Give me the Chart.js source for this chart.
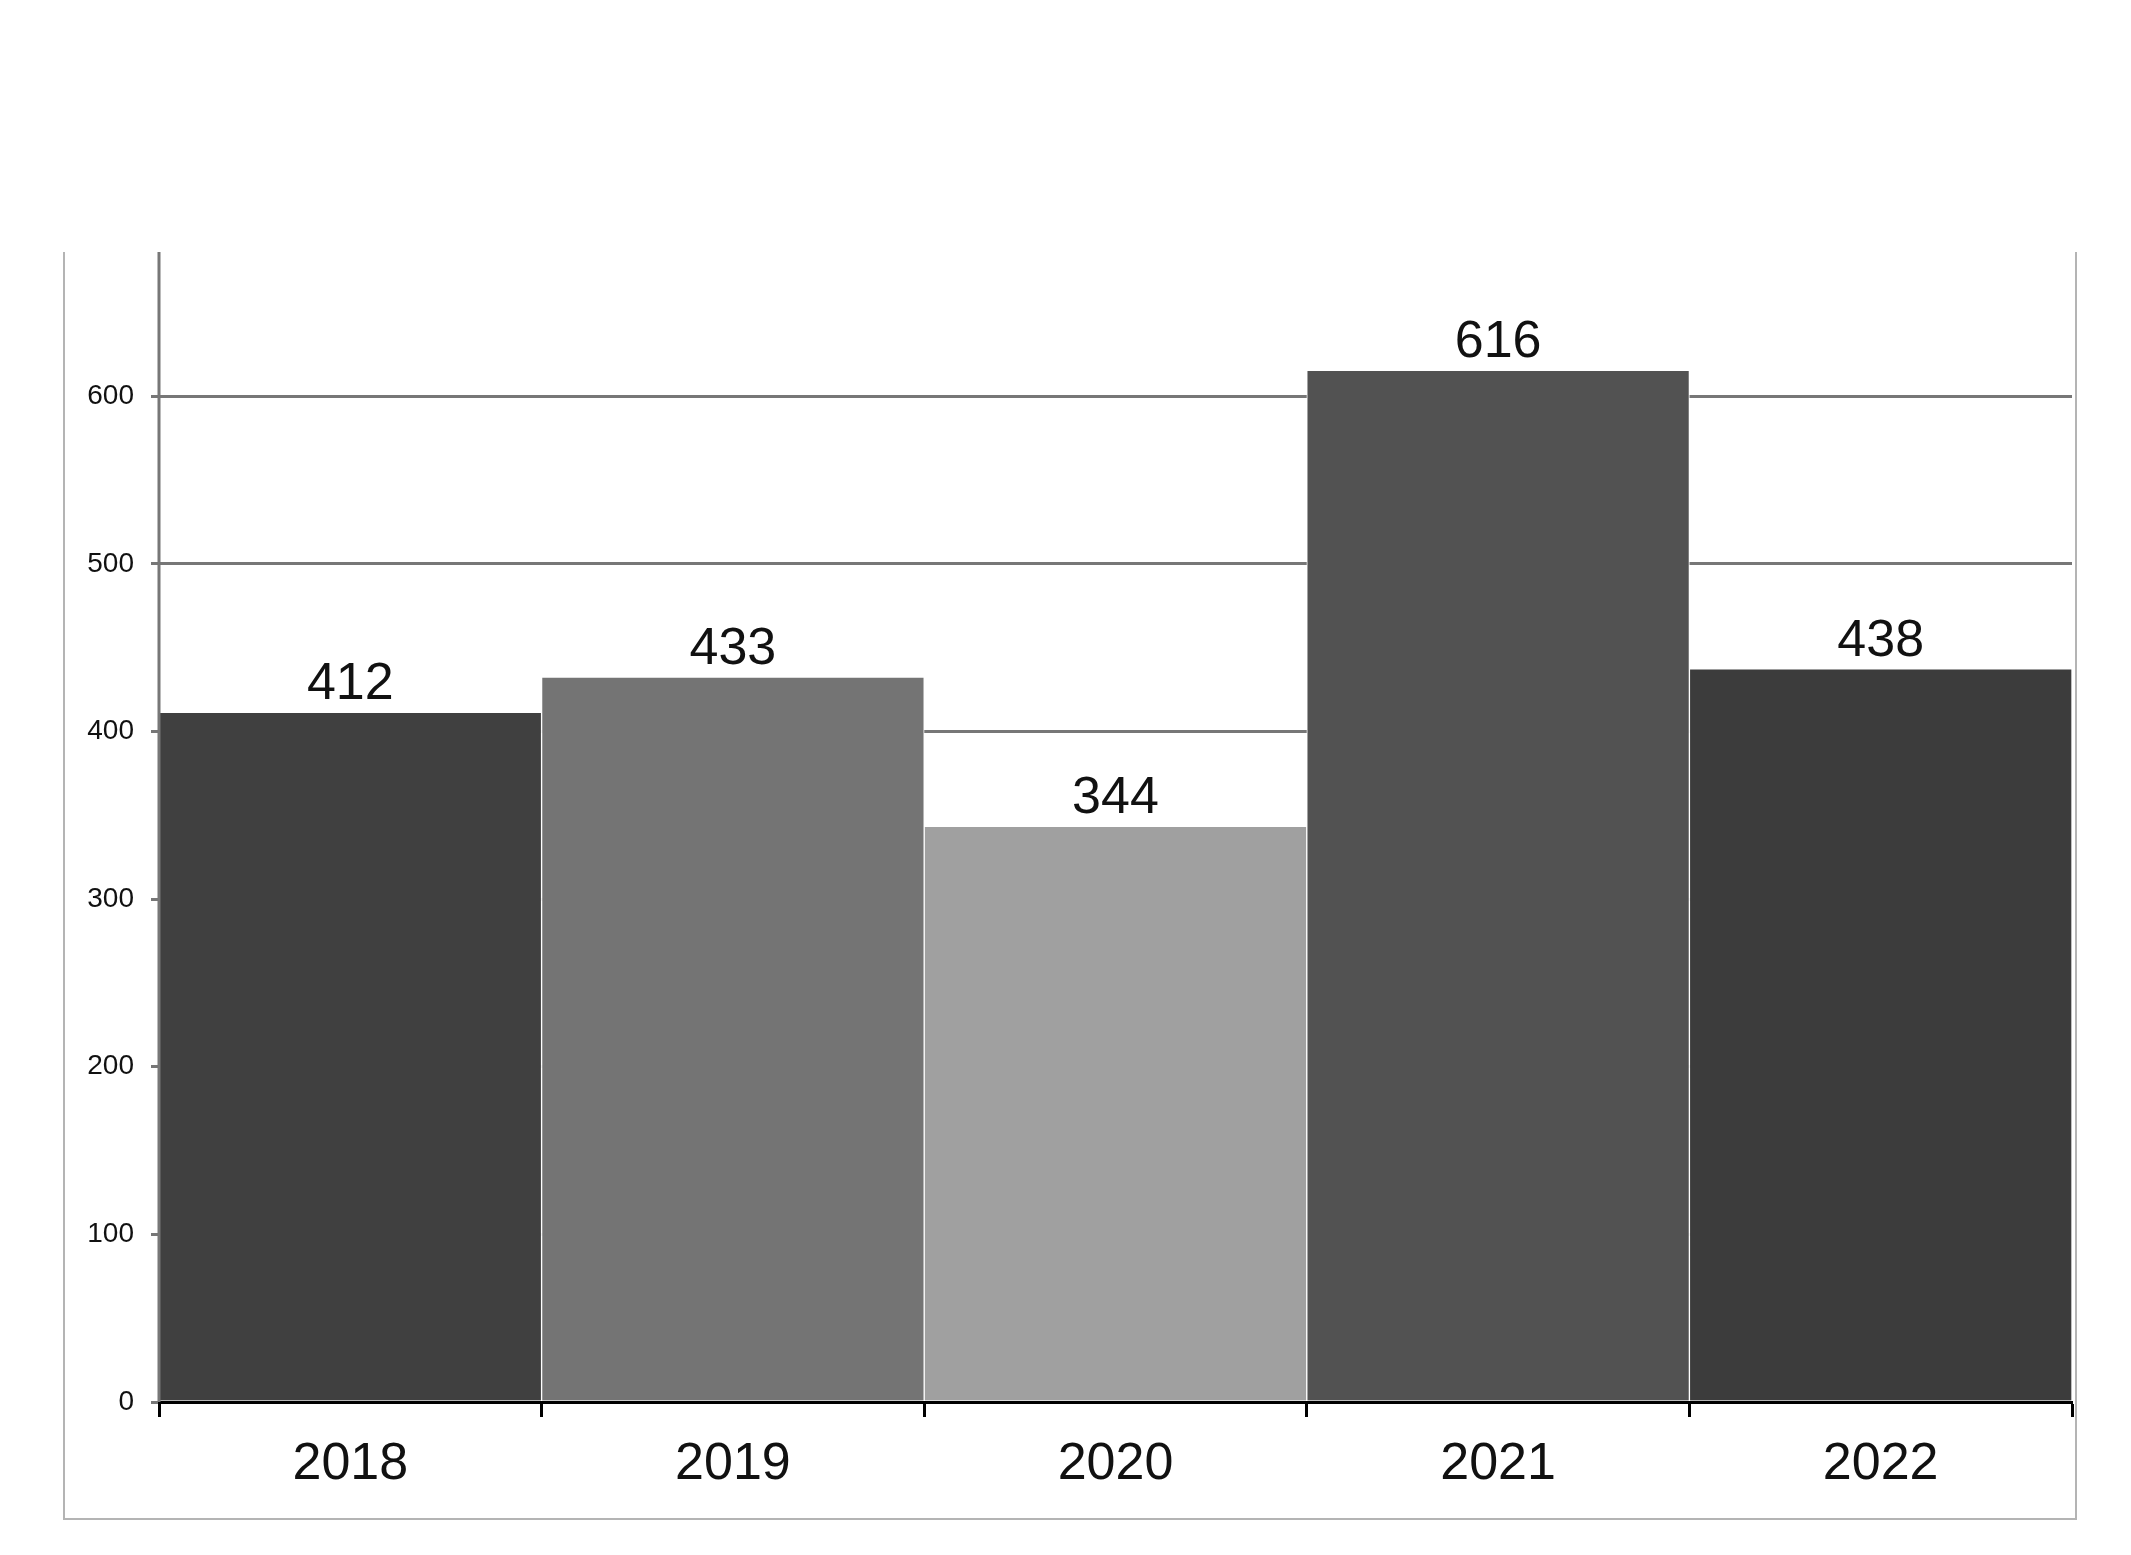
<!DOCTYPE html>
<html>
<head>
<meta charset="utf-8">
<script src="https://cdn.jsdelivr.net/npm/chart.js@4.4.1/dist/chart.umd.min.js"></script>
<style>
    html, body { margin: 0; padding: 0; background: #fff; }
    #wrap { position: relative; width: 2131px; height: 1555px; }
    #frame {
        position: absolute; left: 63px; top: 252px; width: 2010px; height: 1266px;
        border-left: 2px solid #b4b4b4; border-right: 2px solid #b4b4b4; border-bottom: 2px solid #b4b4b4;
    }
    canvas { position: absolute; left: 0; top: 0; }
</style>
</head>
<body>
<div id="wrap">
    <div id="frame"></div>
    <canvas id="barChart" width="2131" height="1555"></canvas>
</div>
<script>
// Chart data
const years = ['2018', '2019', '2020', '2021', '2022'];
const counts = [412, 433, 344, 616, 438];
const barColors = ['#404040', '#747474', '#a0a0a0', '#525252', '#3c3c3c'];
const yTickStep = 100;

const FONT = "'Liberation Sans', Arial, sans-serif";

// Value labels above bars + y axis line on top of bars
const overlayPlugin = {
    id: 'overlay',
    afterDatasetsDraw(chart) {
        const ctx = chart.ctx;
        const area = chart.chartArea;
        ctx.save();
        // y axis line
        ctx.strokeStyle = '#777777';
        ctx.lineWidth = 3;
        ctx.beginPath();
        ctx.moveTo(area.left, area.top);
        ctx.lineTo(area.left, area.bottom);
        ctx.stroke();

        // bar values
        ctx.fillStyle = '#111111';
        ctx.font = '52px ' + FONT;
        ctx.textAlign = 'center';
        ctx.textBaseline = 'alphabetic';
        chart.getDatasetMeta(0).data.forEach((bar, i) => {
            ctx.fillText(String(counts[i]), bar.x, bar.y - 12);
        });
        ctx.restore();
    }
};

new Chart(document.getElementById('barChart').getContext('2d'), {
    type: 'bar',
    data: {
        labels: years,
        datasets: [{
            data: counts,
            backgroundColor: barColors,
            borderColor: '#ffffff',
            borderWidth: (c) => ({ top: 2, left: c.dataIndex === 0 ? 0 : 1, right: 1, bottom: 0 }),
            borderSkipped: 'bottom',
            barPercentage: 1,
            categoryPercentage: 1
        }]
    },
    options: {
        responsive: false,
        animation: false,
        layout: { padding: { left: 64, right: 59, top: 252, bottom: 36 } },
        plugins: {
            legend: { display: false },
            tooltip: { enabled: false }
        },
        scales: {
            x: {
                z: 1,
                afterFit: (s) => { s.height = 117; },
                border: { display: true, color: '#000000', width: 3 },
                grid: {
                    offset: true,
                    drawOnChartArea: false,
                    drawTicks: true,
                    tickLength: 15,
                    tickWidth: 3,
                    tickColor: '#000000'
                },
                ticks: {
                    color: '#111111',
                    padding: 16,
                    font: { family: FONT, size: 52 }
                }
            },
            y: {
                min: 0,
                max: 686,
                afterFit: (s) => { s.width = 95; },
                afterBuildTicks: (s) => {
                    s.ticks = s.ticks.filter(t => t.value % yTickStep === 0);
                },
                border: { display: false },
                grid: {
                    color: '#777777',
                    lineWidth: 3,
                    drawTicks: true,
                    tickLength: 8,
                    tickColor: '#777777',
                    tickWidth: 3
                },
                ticks: {
                    stepSize: yTickStep,
                    color: '#111111',
                    padding: 17,
                    font: { family: FONT, size: 28 }
                }
            }
        }
    },
    plugins: [overlayPlugin]
});
</script>
</body>
</html>
